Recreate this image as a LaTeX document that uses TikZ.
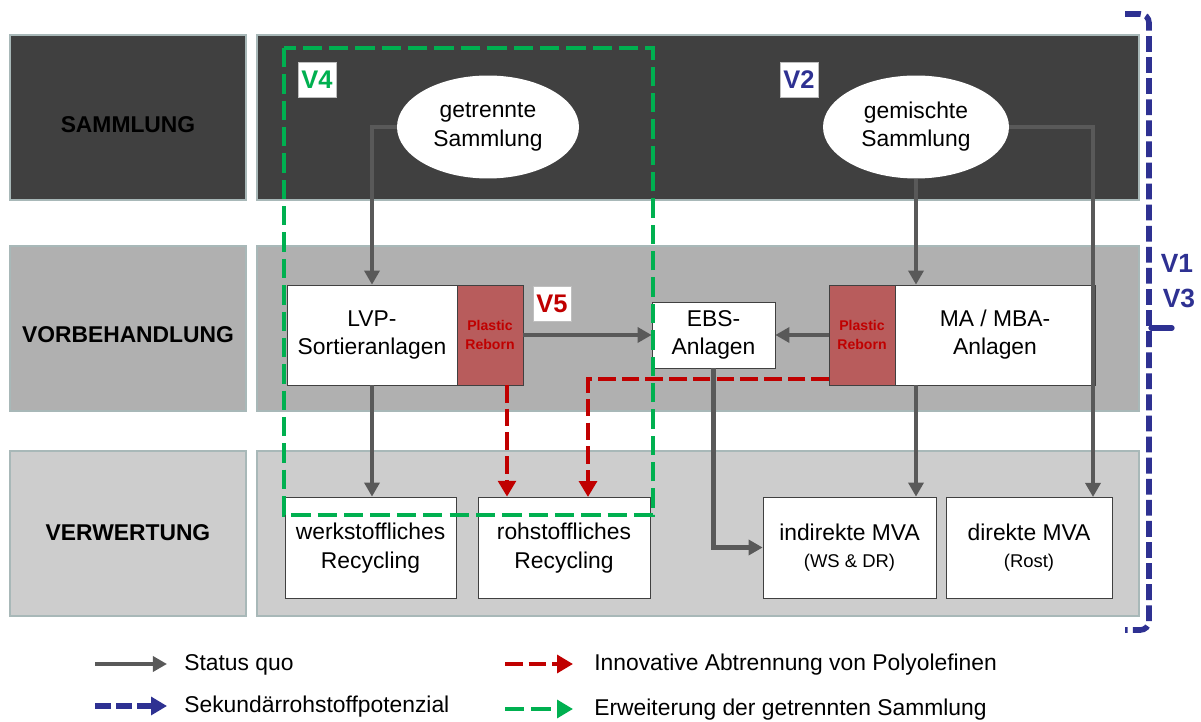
\documentclass[tikz,border=0pt]{standalone}
\usepackage{fontspec}
\setmainfont{Liberation Sans}
\usetikzlibrary{arrows.meta,shapes.geometric}

\definecolor{rowA}{HTML}{404040}
\definecolor{rowB}{HTML}{B0B0B0}
\definecolor{rowC}{HTML}{CDCDCD}
\definecolor{rand}{HTML}{A8B8B8}
\definecolor{pfeil}{HTML}{595959}
\definecolor{reborn}{HTML}{B85C5C}
\definecolor{rot}{HTML}{C00000}
\definecolor{blau}{HTML}{2E3192}
\definecolor{gruen}{HTML}{00B050}

\tikzset{
    txt/.style={font=\fontsize{13}{16}\selectfont, align=center},
    box/.style={txt, draw=black!75, line width=0.4pt, fill=white, inner sep=0pt},
    wolke/.style={txt, ellipse, fill=white, inner sep=0pt},
    pr/.style={draw=black!75, line width=0.4pt, fill=reborn, text=rot, align=center,
        font=\fontsize{8}{10.5}\selectfont\bfseries, minimum width=1.32cm, minimum height=2cm, inner sep=0pt},
    vlab/.style={draw=gray!50, fill=white, font=\fontsize{14.5}{16}\selectfont\bfseries,
        minimum width=0.76cm, minimum height=0.7cm, inner sep=0pt},
    quo/.style={pfeil, line width=2.3pt, -{Triangle[length=8pt,width=8.5pt]}},
    neu/.style={rot, line width=2.4pt, dash pattern=on 10pt off 3.5pt, -{Triangle[length=9pt,width=10pt]}},
    pot/.style={blau, line width=3.2pt, dash pattern=on 9pt off 3pt},
    erw/.style={gruen, line width=2.8pt, dash pattern=on 11pt off 4pt}
}

\begin{document}
\begin{tikzpicture}[x=0.02cm, y=-0.02cm]
    \useasboundingbox (0,0) rectangle (1201,722);

    \foreach \i/\y/\ty/\name/\col in {1/35/125/SAMMLUNG/rowA, 2/246/335/VORBEHANDLUNG/rowB, 3/451/533/VERWERTUNG/rowC} {
        \filldraw[\col, draw=rand, line width=0.6pt] (10,\y) rectangle (246,\y+165);
        \filldraw[\col, draw=rand, line width=0.6pt] (257,\y) rectangle (1139,\y+165);
        \node[txt, font=\fontsize{13}{16}\selectfont\bfseries] (lab\i) at (128,\ty) {\name};
    }

    \node[wolke, minimum width=3.64cm, minimum height=2.06cm] (getr) at (488,127) {getrennte\\Sammlung};
    \node[wolke, minimum width=3.72cm, minimum height=2.06cm] (gem) at (916,127) {gemischte\\Sammlung};

    \node[box, minimum width=3.4cm, minimum height=2cm] (lvp) at (372,335) {LVP-\\Sortieranlagen};
    \node[pr] (pr1) at (490,335) {Plastic\\Reborn};
    \node[box, minimum width=2.46cm, minimum height=1.32cm] (ebs) at (713.5,335) {EBS-\\Anlagen};
    \node[pr] (pr2) at (862,335) {Plastic\\Reborn};
    \node[box, minimum width=4cm, minimum height=2cm] (ma) at (995,335) {MA / MBA-\\Anlagen};

    \node[box, minimum width=3.42cm, minimum height=2.02cm, text depth=2pt] (werk) at (370.5,547.5) {werkstoffliches\\Recycling};
    \node[box, minimum width=3.44cm, minimum height=2.02cm, text depth=2pt] (roh) at (564,547.5) {rohstoffliches\\Recycling};
    \node[box, minimum width=3.46cm, minimum height=2.02cm] (indir) at (849.5,547.5)
        {indirekte MVA\\[-1pt]{\fontsize{10.5}{12}\selectfont (WS \& DR)}};
    \node[box, minimum width=3.32cm, minimum height=2.02cm] (dir) at (1029,547.5)
        {direkte MVA\\[-1pt]{\fontsize{10.5}{12}\selectfont (Rost)}};

    \coordinate (dirin) at (1093,497);
    \coordinate (r1) at (507,385);
    \coordinate (r2) at (829,379);
    \coordinate (r2end) at (588,497);

    \draw[quo] (getr.west) -| (lvp.north);
    \draw[quo] (gem.south) -- (gem.south |- ma.north);
    \draw[quo] (gem.east) -| (dirin);
    \draw[quo] (pr1.east) -- (ebs.west);
    \draw[quo] (pr2.west) -- (ebs.east);
    \draw[quo] (lvp.south) -- (lvp.south |- werk.north);
    \draw[quo] (ebs.south) |- (indir.west);
    \draw[quo] (gem.south |- ma.south) -- (gem.south |- indir.north);

    \draw[neu] (r1) -- (r1 |- roh.north);
    \draw[neu] (r2) -| (r2end);

    \draw[erw] (284,48) rectangle (653,515);

    \draw[pot, rounded corners=5pt] (1125,14) -- (1149,14) -- (1149,630) -- (1125,630);
    \draw[blau, line width=3pt, line cap=round] (1151,328) -- (1172,328);

    \node[vlab, text=gruen] (v4) at (317,80) {V4};
    \node[vlab, text=blau] (v2) at (799,80) {V2};
    \node[vlab, text=rot] (v5) at (552,304) {V5};
    \node[text=blau, font=\fontsize{15}{16}\selectfont\bfseries, inner sep=0pt] (v1) at (1177,263) {V1};
    \node[text=blau, font=\fontsize{15}{16}\selectfont\bfseries, inner sep=0pt] (v3) at (1179,298) {V3};

    \coordinate (l1a) at (95,664);  \coordinate (l1b) at (167,664);
    \coordinate (l2a) at (95,706);  \coordinate (l2b) at (167,706);
    \coordinate (l3a) at (505,664); \coordinate (l3b) at (573,664);
    \coordinate (l4a) at (505,709); \coordinate (l4b) at (573,709);

    \draw[quo] (l1a) -- (l1b);
    \draw[pot, line width=3pt, -{Triangle[length=9pt,width=10pt]}] (l2a) -- (l2b);
    \draw[neu] (l3a) -- (l3b);
    \draw[erw, -{Triangle[length=9pt,width=10pt]}] (l4a) -- (l4b);

    \node[txt, anchor=west, inner sep=0pt] (leg1) at (184,665) {Status quo};
    \node[txt, anchor=west, inner sep=0pt] (leg2) at (184,707) {Sekundärrohstoffpotenzial};
    \node[txt, anchor=west, inner sep=0pt] (leg3) at (594,665) {Innovative Abtrennung von Polyolefinen};
    \node[txt, anchor=west, inner sep=0pt] (leg4) at (594,710) {Erweiterung der getrennten Sammlung};
\end{tikzpicture}
\end{document}
